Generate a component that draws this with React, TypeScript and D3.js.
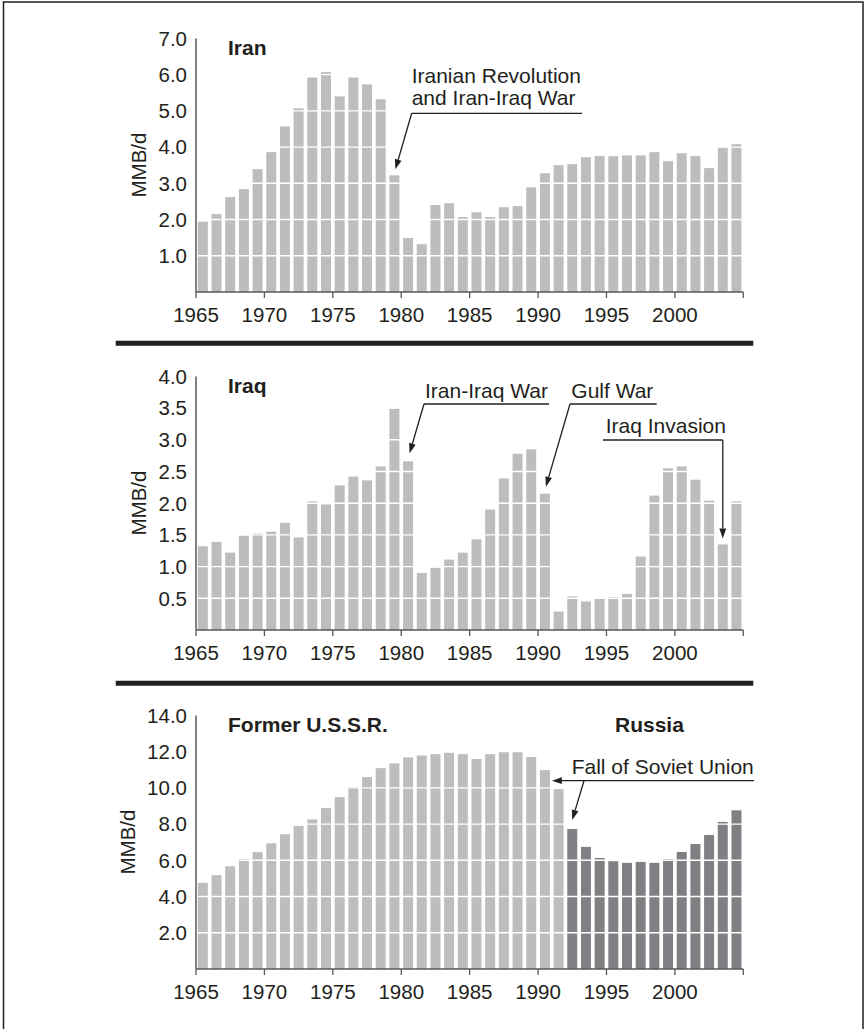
import React from 'react';
import * as d3 from 'd3';

// ---- data (million barrels per day) ----
const years = d3.range(1965, 2005);

const iranOutput = [
  1.94, 2.15, 2.62, 2.84, 3.39, 3.86, 4.57, 5.07, 5.92, 6.07,
  5.40, 5.92, 5.73, 5.32, 3.22, 1.49, 1.32, 2.40, 2.45, 2.07,
  2.20, 2.07, 2.34, 2.37, 2.89, 3.28, 3.50, 3.53, 3.72, 3.75,
  3.75, 3.77, 3.77, 3.86, 3.61, 3.83, 3.75, 3.42, 3.99, 4.08,
];

const iraqOutput = [
  1.32, 1.39, 1.22, 1.49, 1.52, 1.55, 1.69, 1.46, 2.03, 1.98,
  2.28, 2.42, 2.36, 2.58, 3.49, 2.66, 0.90, 0.98, 1.11, 1.22,
  1.43, 1.90, 2.39, 2.78, 2.85, 2.15, 0.29, 0.53, 0.45, 0.49,
  0.52, 0.57, 1.16, 2.12, 2.55, 2.58, 2.37, 2.04, 1.35, 2.03,
];

const sovietYears = d3.range(1965, 1992);
const sovietOutput = [
  4.76, 5.18, 5.67, 6.08, 6.45, 6.94, 7.44, 7.90, 8.26, 8.89,
  9.49, 10.05, 10.60, 11.09, 11.35, 11.68, 11.79, 11.86, 11.94, 11.86,
  11.59, 11.86, 12.01, 12.01, 11.70, 10.98, 9.93,
];

const russiaYears = d3.range(1992, 2005);
const russiaOutput = [
  7.73, 6.74, 6.13, 5.95, 5.86, 5.91, 5.86, 6.06, 6.46, 6.90, 7.40, 8.12, 8.76,
];

const iranTicks = [1, 2, 3, 4, 5, 6, 7];
const iraqTicks = [0.5, 1, 1.5, 2, 2.5, 3, 3.5, 4];
const ussrTicks = [2, 4, 6, 8, 10, 12, 14];
const yearTicks = [1965, 1970, 1975, 1980, 1985, 1990, 1995, 2000];

// ---- layout & style ----
const W = 868;
const H = 1029;
const X0 = 196;
const X1 = 743.3;
const PLOT_H = 253.6;
const LIGHT = '#bcbdbf';
const DARK = '#7f8084';
const INK = '#231f20';
const AXIS = '#58595b';
const FONT = '"Liberation Sans", Arial, Helvetica, sans-serif';

const xBand = d3
  .scaleBand<number>()
  .domain(years)
  .range([X0, X1])
  .paddingInner(0.27)
  .paddingOuter(0.135);
const xYear = d3.scaleLinear().domain([1965, 2005]).range([X0, X1]);
const cx = (yr: number) => (xBand(yr) as number) + xBand.bandwidth() / 2;

type Series = { yrs: number[]; vals: number[]; color: string };

function Arrow({ x1, y1, x2, y2 }: { x1: number; y1: number; x2: number; y2: number }) {
  const dx = x2 - x1;
  const dy = y2 - y1;
  const L = Math.hypot(dx, dy);
  const ux = dx / L;
  const uy = dy / L;
  const len = 10;
  const hw = 3.4;
  const bx = x2 - ux * len;
  const by = y2 - uy * len;
  const pts = [
    [x2, y2],
    [bx - uy * hw, by + ux * hw],
    [bx + uy * hw, by - ux * hw],
  ]
    .map((p) => p.join(','))
    .join(' ');
  return (
    <g>
      <line x1={x1} y1={y1} x2={bx} y2={by} stroke={INK} strokeWidth={1.3} />
      <polygon points={pts} fill={INK} />
    </g>
  );
}

function Panel({
  zero,
  yMax,
  ticks,
  series,
  labelX,
  titles,
  children,
}: {
  zero: number;
  yMax: number;
  ticks: number[];
  series: Series[];
  labelX: number;
  titles: { text: string; x: number }[];
  children?: (y: d3.ScaleLinear<number, number>) => React.ReactNode;
}) {
  const y = d3.scaleLinear().domain([0, yMax]).range([zero, zero - PLOT_H]);
  return (
    <g>
      {series.map((s, si) =>
        s.yrs.map((yr, i) => (
          <rect
            key={`${si}-${yr}`}
            x={xBand(yr)}
            y={y(s.vals[i])}
            width={xBand.bandwidth()}
            height={zero - y(s.vals[i])}
            fill={s.color}
          />
        ))
      )}
      {ticks.map((t) => (
        <line key={`g${t}`} x1={X0} x2={X1} y1={y(t)} y2={y(t)} stroke="#ffffff" strokeWidth={1.4} />
      ))}
      <line x1={X0} x2={X0} y1={y(yMax)} y2={zero} stroke={AXIS} strokeWidth={1.5} />
      <line x1={X0} x2={X1} y1={zero} y2={zero} stroke={AXIS} strokeWidth={1.5} />
      {[...yearTicks, 2005].map((yr) => (
        <line key={`t${yr}`} x1={xYear(yr)} x2={xYear(yr)} y1={zero} y2={zero + 6} stroke={AXIS} strokeWidth={1.3} />
      ))}
      {yearTicks.map((yr) => (
        <text key={`l${yr}`} x={xYear(yr)} y={zero + 30} textAnchor="middle" fontSize={20.5} fill={INK}>
          {yr}
        </text>
      ))}
      {ticks.map((t) => (
        <text key={`yl${t}`} x={187} y={y(t)} dy="0.36em" textAnchor="end" fontSize={20.5} fill={INK}>
          {t.toFixed(1)}
        </text>
      ))}
      <text
        transform={`translate(${labelX},${zero - 127}) rotate(-90)`}
        textAnchor="middle"
        fontSize={20.5}
        fill={INK}
      >
        MMB/d
      </text>
      {titles.map((t) => (
        <text key={t.text} x={t.x} y={zero - 237} fontSize={21} fontWeight="bold" fill={INK}>
          {t.text}
        </text>
      ))}
      {children ? children(y) : null}
    </g>
  );
}

export default function App() {
  return (
    <svg
      width={W}
      height={H}
      viewBox={`0 0 ${W} ${H}`}
      style={{ position: 'absolute', left: 0, top: 0, display: 'block', background: '#ffffff' }}
      fontFamily={FONT}
    >
      <rect x={0} y={0} width={W} height={H} fill="#ffffff" />
      {/* outer frame, open at the bottom */}
      <path d={`M3.5,${H + 2} V2 H863 V${H + 2}`} fill="none" stroke={INK} strokeWidth={1.5} />

      {/* Iran */}
      <Panel
        zero={292}
        yMax={7}
        ticks={iranTicks}
        series={[{ yrs: years, vals: iranOutput, color: LIGHT }]}
        labelX={145.5}
        titles={[{ text: 'Iran', x: 228 }]}
      >
        {(y) => (
          <g fontSize={21} fill={INK}>
            <text x={411.7} y={83.3}>Iranian Revolution</text>
            <text x={411.7} y={105}>and Iran-Iraq War</text>
            <line x1={411.7} x2={582} y1={113.3} y2={113.3} stroke={INK} strokeWidth={1.3} />
            <Arrow x1={411.7} y1={113.3} x2={cx(1979) + 1} y2={y(iranOutput[1979 - 1965]) - 6} />
          </g>
        )}
      </Panel>

      <line x1={115.7} x2={753.3} y1={343.2} y2={343.2} stroke={INK} strokeWidth={5} />

      {/* Iraq */}
      <Panel
        zero={630}
        yMax={4}
        ticks={iraqTicks}
        series={[{ yrs: years, vals: iraqOutput, color: LIGHT }]}
        labelX={145.5}
        titles={[{ text: 'Iraq', x: 228 }]}
      >
        {(y) => (
          <g fontSize={21} fill={INK}>
            <text x={425} y={398.3}>Iran-Iraq War</text>
            <line x1={424} x2={549} y1={404} y2={404} stroke={INK} strokeWidth={1.3} />
            <Arrow x1={424} y1={404} x2={cx(1980) + 1.5} y2={y(iraqOutput[1980 - 1965]) - 8} />

            <text x={571.3} y={398.3}>Gulf War</text>
            <line x1={570} x2={656.7} y1={404} y2={404} stroke={INK} strokeWidth={1.3} />
            <Arrow x1={570} y1={404} x2={cx(1990) + 1} y2={y(iraqOutput[1990 - 1965]) - 7} />

            <text x={605.7} y={433}>Iraq Invasion</text>
            <line x1={603} x2={cx(2003)} y1={440} y2={440} stroke={INK} strokeWidth={1.3} />
            <Arrow x1={cx(2003)} y1={440} x2={cx(2003)} y2={y(iraqOutput[2003 - 1965]) - 6} />
          </g>
        )}
      </Panel>

      <line x1={115.7} x2={753.3} y1={683.2} y2={683.2} stroke={INK} strokeWidth={5} />

      {/* Former U.S.S.R. and Russia */}
      <Panel
        zero={969}
        yMax={14}
        ticks={ussrTicks}
        series={[
          { yrs: sovietYears, vals: sovietOutput, color: LIGHT },
          { yrs: russiaYears, vals: russiaOutput, color: DARK },
        ]}
        labelX={135}
        titles={[
          { text: 'Former U.S.S.R.', x: 228 },
          { text: 'Russia', x: 615 },
        ]}
      >
        {(y) => (
          <g fontSize={21} fill={INK}>
            <text x={571.7} y={774.3}>Fall of Soviet Union</text>
            <Arrow
              x1={754}
              y1={780.7}
              x2={(xBand(1990) as number) + xBand.bandwidth() + 2}
              y2={780.7}
            />
            <Arrow x1={584} y1={780.7} x2={cx(1992)} y2={y(russiaOutput[0]) - 9} />
          </g>
        )}
      </Panel>
    </svg>
  );
}
